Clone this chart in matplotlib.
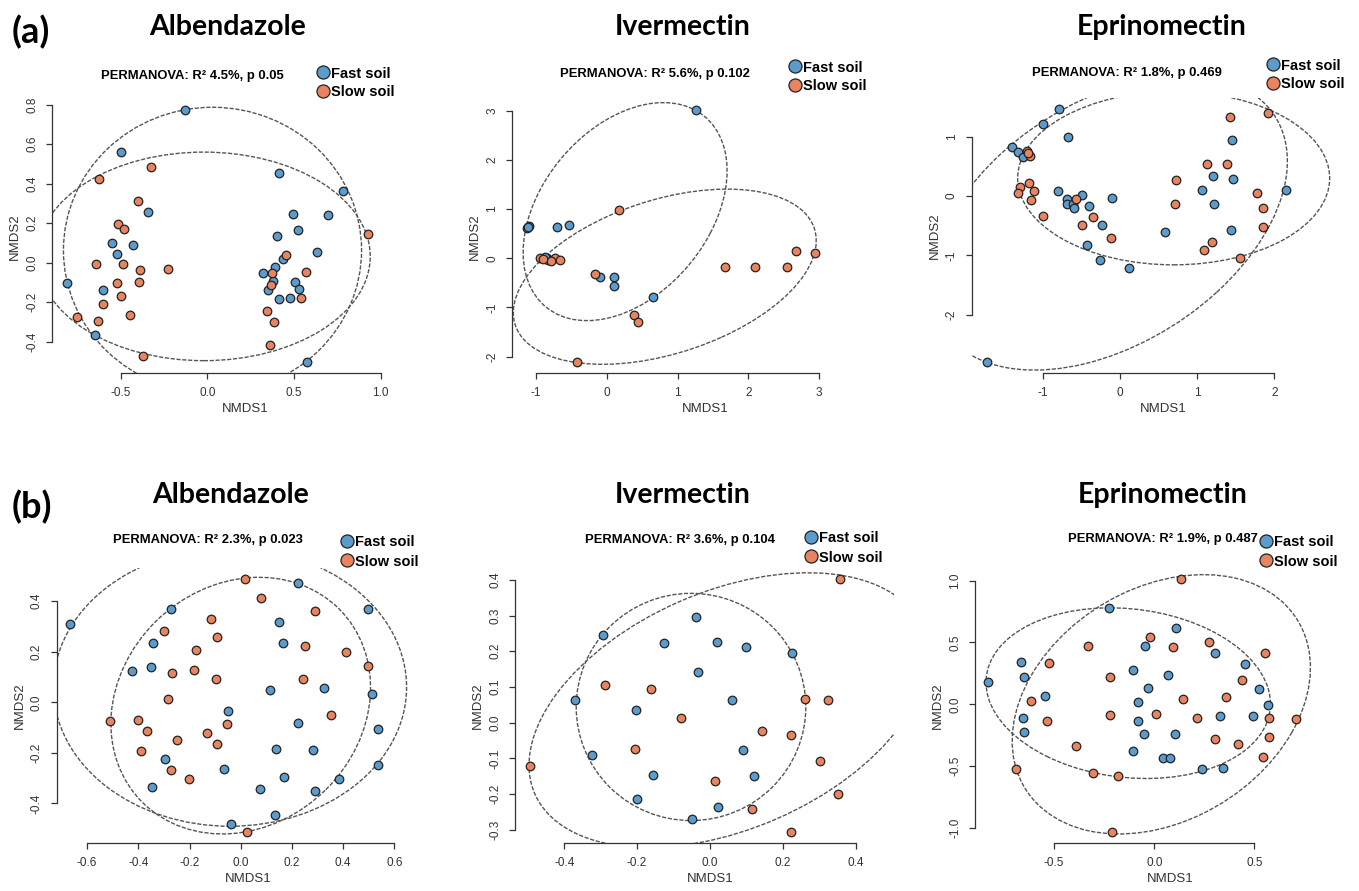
import matplotlib
matplotlib.use("Agg")
import matplotlib.pyplot as plt
from matplotlib.patches import Ellipse
from matplotlib import font_manager

# ---------------------------------------------------------------- data
row_tags = ["(a)", "(b)"]
panel_titles = ["Albendazole", "Ivermectin", "Eprinomectin",
                "Albendazole", "Ivermectin", "Eprinomectin"]
permanova_r2 = ["4.5%", "5.6%", "1.8%", "2.3%", "3.6%", "1.9%"]
permanova_p = ["0.05", "0.102", "0.469", "0.023", "0.104", "0.487"]
groups = ["Fast soil", "Slow soil"]
group_colors = ["#5c9ccc", "#e8845f"]

# (a) Albendazole
a_alb_fast_x = [-0.129, -0.498, -0.340, -0.548, -0.519, -0.431, -0.808, -0.600, -0.650,
                0.415, 0.785, 0.496, 0.696, 0.525, 0.404, 0.635, 0.435, 0.388, 0.323,
                0.377, 0.506, 0.348, 0.529, 0.415, 0.479, 0.577]
a_alb_fast_y = [0.773, 0.562, 0.255, 0.101, 0.042, 0.089, -0.101, -0.138, -0.368,
                0.456, 0.361, 0.246, 0.241, 0.165, 0.135, 0.054, 0.017, -0.022, -0.051,
                -0.093, -0.096, -0.140, -0.135, -0.186, -0.181, -0.503]
a_alb_slow_x = [-0.327, -0.627, -0.398, -0.513, -0.479, -0.644, -0.485, -0.388, -0.225,
                -0.521, -0.394, -0.498, -0.604, -0.754, -0.633, -0.446, -0.369,
                0.925, 0.454, 0.569, 0.371, 0.368, 0.540, 0.342, 0.387, 0.362]
a_alb_slow_y = [0.483, 0.422, 0.311, 0.194, 0.169, -0.008, -0.008, -0.039, -0.032,
                -0.101, -0.098, -0.169, -0.211, -0.273, -0.295, -0.265, -0.471,
                0.143, 0.041, -0.047, -0.051, -0.115, -0.177, -0.243, -0.302, -0.417]
a_alb_ellipses = [(0.03, 0.063, 1.72, 1.448, 0.0), (-0.02, 0.032, 1.92, 1.056, 0.0)]

# (a) Ivermectin
a_ive_fast_x = [1.256, -1.129, -1.100, -1.115, -0.706, -0.527, -0.842, -0.828, -0.870,
                -0.094, 0.104, 0.104, 0.649]
a_ive_fast_y = [3.020, 0.611, 0.650, 0.630, 0.631, 0.672, 0.000, -0.034, 0.030,
                -0.387, -0.387, -0.556, -0.780]
a_ive_slow_x = [0.179, -0.165, 0.386, 0.438, -0.414, 1.671, 2.094, 2.541, 2.673, 2.941,
                -0.941, -0.729, -0.659, -0.780, -0.900]
a_ive_slow_y = [0.984, -0.319, -1.160, -1.289, -2.117, -0.176, -0.176, -0.176, 0.156, 0.102,
                0.007, 0.000, -0.034, -0.060, -0.010]
a_ive_ellipses = [(0.26, 0.95, 4.63, 2.56, 70.0), (0.82, -0.375, 4.73, 2.94, 33.0)]

# (a) Eprinomectin
a_epr_fast_x = [-1.718, -0.785, -1.001, -0.678, -1.403, -1.316, -1.260, -0.798, -0.691,
                -0.682, -0.613, -0.591, -0.488, -0.406, -0.108, -0.237, -0.432, -0.259,
                0.117, 0.587, 1.446, 1.200, 1.467, 1.066, 1.221, 1.433, 2.149]
a_epr_fast_y = [-2.798, 1.461, 1.213, 0.989, 0.831, 0.747, 0.663, 0.084, -0.051,
                -0.140, -0.140, -0.208, 0.011, -0.169, -0.039, -0.494, -0.826, -1.079,
                -1.219, -0.612, 0.944, 0.337, 0.281, 0.101, -0.135, -0.573, 0.101]
a_epr_slow_x = [-1.208, -1.165, -1.190, -1.295, -1.316, -1.174, -1.113, -1.152, -1.001,
                -0.570, -0.354, -0.488, -0.121, 0.721, 0.712, 1.131, 1.390, 1.424,
                1.921, 1.770, 1.856, 1.847, 1.187, 1.088, 1.554]
a_epr_slow_y = [0.758, 0.674, 0.720, 0.157, 0.056, 0.225, 0.090, -0.067, -0.337,
                -0.051, -0.348, -0.494, -0.713, 0.264, -0.140, 0.539, 0.539, 1.326,
                1.404, 0.045, -0.197, -0.517, -0.770, -0.910, -1.039]
a_epr_ellipses = [(-0.14, -0.45, 5.72, 3.64, 50.0), (0.695, 0.30, 4.04, 2.92, 0.0)]

# (b) Albendazole
b_alb_fast_x = [-0.667, -0.272, -0.341, -0.350, -0.426, 0.223, 0.151, 0.167, 0.496,
                0.115, 0.327, 0.512, 0.535, 0.535, -0.051, 0.223, 0.138, 0.281,
                -0.297, -0.065, 0.171, 0.382, 0.076, 0.290, -0.348, 0.134, -0.038]
b_alb_fast_y = [0.308, 0.369, 0.233, 0.141, 0.124, 0.470, 0.319, 0.233, 0.368,
                0.049, 0.058, 0.033, -0.107, -0.248, -0.034, -0.083, -0.186, -0.190,
                -0.225, -0.265, -0.296, -0.304, -0.343, -0.350, -0.336, -0.445, -0.480]
b_alb_slow_x = [0.018, 0.079, 0.292, -0.117, -0.298, -0.092, -0.174, -0.182, -0.267,
                -0.095, 0.251, 0.411, 0.499, 0.242, -0.283, -0.510, -0.402, -0.367,
                -0.250, -0.133, -0.055, -0.094, -0.391, -0.272, -0.202, 0.352, 0.026]
b_alb_slow_y = [0.489, 0.411, 0.361, 0.331, 0.283, 0.260, 0.206, 0.126, 0.117,
                0.094, 0.223, 0.199, 0.142, 0.094, 0.012, -0.075, -0.070, -0.113,
                -0.149, -0.120, -0.086, -0.166, -0.191, -0.267, -0.302, -0.049, -0.514]
b_alb_ellipses = [(-0.042, 0.06, 1.38, 1.10, 0.0), (0.0, -0.013, 1.084, 0.94, 45.0)]

# (b) Ivermectin
b_ive_fast_x = [-0.037, -0.294, -0.126, 0.020, 0.100, 0.225, -0.034, -0.369, -0.203,
                0.060, -0.324, 0.091, -0.155, 0.122, -0.201, 0.022, -0.050]
b_ive_fast_y = [0.297, 0.246, 0.222, 0.225, 0.213, 0.194, 0.143, 0.063, 0.035,
                0.063, -0.090, -0.077, -0.147, -0.150, -0.213, -0.237, -0.271]
b_ive_slow_x = [0.357, -0.288, -0.162, -0.080, 0.262, 0.325, 0.144, 0.221, -0.206,
                0.301, -0.494, 0.015, 0.352, 0.114, 0.223]
b_ive_slow_y = [0.403, 0.106, 0.094, 0.012, 0.065, 0.063, -0.024, -0.035, -0.075,
                -0.107, -0.120, -0.162, -0.199, -0.243, -0.306]
b_ive_ellipses = [(-0.052, 0.044, 0.63, 0.636, 0.0), (0.05, 0.035, 1.16, 0.664, 24.1)]

# (b) Eprinomectin
b_epr_fast_x = [-0.829, -0.666, -0.651, -0.546, -0.657, -0.651, -0.225, 0.108, -0.047,
                -0.106, 0.068, -0.033, -0.082, -0.082, -0.052, 0.101, -0.106, 0.045,
                0.078, 0.303, 0.454, 0.521, 0.566, 0.491, 0.326, 0.236, 0.344]
b_epr_fast_y = [0.181, 0.345, 0.224, 0.065, -0.113, -0.226, 0.776, 0.620, 0.474,
                0.278, 0.240, 0.135, 0.016, -0.135, -0.243, -0.243, -0.380, -0.437,
                -0.437, 0.415, 0.326, 0.124, -0.008, -0.097, -0.092, -0.520, -0.518]
b_epr_slow_x = [0.131, -0.022, -0.331, 0.092, 0.275, 0.552, -0.524, -0.221, 0.436,
                0.358, 0.141, -0.617, -0.221, 0.010, 0.211, 0.574, 0.707, -0.536,
                0.303, 0.571, 0.418, -0.391, 0.544, -0.691, -0.306, -0.183, -0.211]
b_epr_slow_y = [1.013, 0.544, 0.472, 0.466, 0.501, 0.415, 0.337, 0.221, 0.197,
                0.062, 0.040, 0.027, -0.086, -0.081, -0.108, -0.108, -0.121, -0.135,
                -0.280, -0.267, -0.323, -0.340, -0.423, -0.523, -0.553, -0.582, -1.035]
b_epr_ellipses = [(-0.13, 0.09, 1.488, 1.306, -38.6), (0.035, 0.0, 2.17, 1.38, 70.5)]

# axis ticks
x_ticks = [[-0.5, 0.0, 0.5, 1.0], [-1, 0, 1, 2, 3], [-1, 0, 1, 2],
           [-0.6, -0.4, -0.2, 0.0, 0.2, 0.4, 0.6], [-0.4, -0.2, 0.0, 0.2, 0.4],
           [-0.5, 0.0, 0.5]]
y_ticks = [[-0.4, -0.2, 0.0, 0.2, 0.4, 0.6, 0.8], [-2, -1, 0, 1, 2, 3], [-2, -1, 0, 1],
           [-0.4, -0.2, 0.0, 0.2, 0.4], [-0.3, -0.2, -0.1, 0.0, 0.1, 0.2, 0.3, 0.4],
           [-1.0, -0.5, 0.0, 0.5, 1.0]]
tick_decimals = [1, 0, 0, 1, 1, 1]

points = [
    (a_alb_fast_x, a_alb_fast_y, a_alb_slow_x, a_alb_slow_y),
    (a_ive_fast_x, a_ive_fast_y, a_ive_slow_x, a_ive_slow_y),
    (a_epr_fast_x, a_epr_fast_y, a_epr_slow_x, a_epr_slow_y),
    (b_alb_fast_x, b_alb_fast_y, b_alb_slow_x, b_alb_slow_y),
    (b_ive_fast_x, b_ive_fast_y, b_ive_slow_x, b_ive_slow_y),
    (b_epr_fast_x, b_epr_fast_y, b_epr_slow_x, b_epr_slow_y),
]
ellipses = [a_alb_ellipses, a_ive_ellipses, a_epr_ellipses,
            b_alb_ellipses, b_ive_ellipses, b_epr_ellipses]

# ---------------------------------------------------------------- layout (pixels)
W, H, DPI = 1359, 891, 100
# plot region: left, top, right, bottom
rects = [(52, 100, 438, 373), (512.3, 100, 898, 373), (971.7, 97.5, 1355, 373.3),
         (56.7, 568, 439.6, 842.7), (515, 568, 894, 842.7), (975, 568, 1340, 842.7)]
xlims = [(-0.896, 1.331), (-1.333, 4.113), (-1.920, 3.043),
         (-0.719, 0.777), (-0.535, 0.505), (-0.895, 0.927)]
ylims = [(-0.5585, 0.8238), (-2.335, 3.222), (-2.988, 1.660),
         (-0.555, 0.531), (-0.336, 0.433), (-1.119, 1.102)]
xlabel_cx = [245, 705, 1163, 248, 710, 1170]
title_pos = [(228, 35), (683, 35), (1162, 35), (231, 503), (683, 503), (1163, 503)]
perm_pos = [(192, 79), (655, 77), (1127, 76), (208, 543), (680, 543), (1163, 542)]
legend_pos = [(323, 72), (795, 66), (1273, 64), (347, 541), (811, 537), (1266, 541)]
tag_pos = [(12, 43), (12, 518)]

plt.rcParams["axes.unicode_minus"] = False
names = {f.name for f in font_manager.fontManager.ttflist}
if "Liberation Sans Narrow" in names:
    perm_font, perm_size = "Liberation Sans Narrow", 11.0
else:
    perm_font, perm_size = "Liberation Sans", 9.4
sans = "Liberation Sans"
head = "Lato" if "Lato" in names else "DejaVu Sans"

fig = plt.figure(figsize=(W / DPI, H / DPI), dpi=DPI)
fig.patch.set_facecolor("white")


def fx(x):
    return x / W


def fy(y):
    return 1 - y / H


AX_COL = "#333333"
for i in range(6):
    l, t, r, b = rects[i]
    ax = fig.add_axes([fx(l), fy(b), (r - l) / W, (b - t) / H])
    ax.set_facecolor("none")
    ax.set_xlim(*xlims[i])
    ax.set_ylim(*ylims[i])

    for (cx, cy, w, h, ang) in ellipses[i]:
        ax.add_patch(Ellipse((cx, cy), w, h, angle=ang, fill=False,
                             edgecolor="#555555", linewidth=1.0,
                             linestyle=(0, (3.0, 1.2)), zorder=2))

    fxs, fys, sxs, sys_ = points[i]
    ax.scatter(fxs, fys, s=38, c=group_colors[0], edgecolors="#222222",
               linewidths=0.9, zorder=3)
    ax.scatter(sxs, sys_, s=38, c=group_colors[1], edgecolors="#222222",
               linewidths=0.9, zorder=3)

    for side in ("top", "right"):
        ax.spines[side].set_visible(False)
    for side in ("left", "bottom"):
        ax.spines[side].set_color(AX_COL)
        ax.spines[side].set_linewidth(0.9)
    ax.spines["bottom"].set_bounds(x_ticks[i][0], x_ticks[i][-1])
    ax.spines["left"].set_bounds(y_ticks[i][0], y_ticks[i][-1])

    d = tick_decimals[i]
    ax.set_xticks(x_ticks[i])
    ax.set_xticklabels([f"{v:.{d}f}" for v in x_ticks[i]], fontsize=8.5,
                       family=sans, color="#333333")
    ax.set_yticks(y_ticks[i])
    ax.set_yticklabels([f"{v:.{d}f}" for v in y_ticks[i]], fontsize=8.5,
                       family=sans, color="#333333", rotation=90, va="center")
    ax.tick_params(direction="out", length=4.5, width=0.9, color=AX_COL, pad=5.5)

    wpx, hpx = r - l, b - t
    ax.set_xlabel("NMDS1", fontsize=9.5, family=sans, color="#333333", va="center")
    ax.xaxis.set_label_coords((xlabel_cx[i] - l) / wpx, -36 / hpx)
    ax.set_ylabel("NMDS2", fontsize=9.5, family=sans, color="#333333",
                  va="center", ha="center")
    ax.yaxis.set_label_coords(-37 / wpx, 0.5)

    # panel heading
    tx, ty = title_pos[i]
    fig.text(fx(tx), fy(ty), panel_titles[i], ha="center", va="baseline",
             fontsize=20.5, fontweight="bold", family=head)
    px_, py_ = perm_pos[i]
    fig.text(fx(px_), fy(py_),
             f"PERMANOVA: R\u00b2 {permanova_r2[i]}, p {permanova_p[i]}",
             ha="center", va="baseline", fontsize=perm_size, fontweight="bold",
             family=perm_font)

    # legend
    lx, ly = legend_pos[i]
    for k in range(2):
        yy = ly + 19 * k
        fig.lines.append(plt.Line2D([fx(lx)], [fy(yy)], marker="o", markersize=9.4,
                                    markerfacecolor=group_colors[k],
                                    markeredgecolor="#222222", markeredgewidth=0.9,
                                    linestyle="none", transform=fig.transFigure))
        fig.text(fx(lx + 8), fy(yy), groups[k], ha="left", va="center_baseline",
                 fontsize=10.5, fontweight="bold", family=sans)

for k in range(2):
    x, y = tag_pos[k]
    fig.text(fx(x), fy(y), row_tags[k], ha="left", va="baseline", fontsize=26,
             fontweight="bold", family=head)

fig.savefig("out.png", dpi=DPI, facecolor="white")
